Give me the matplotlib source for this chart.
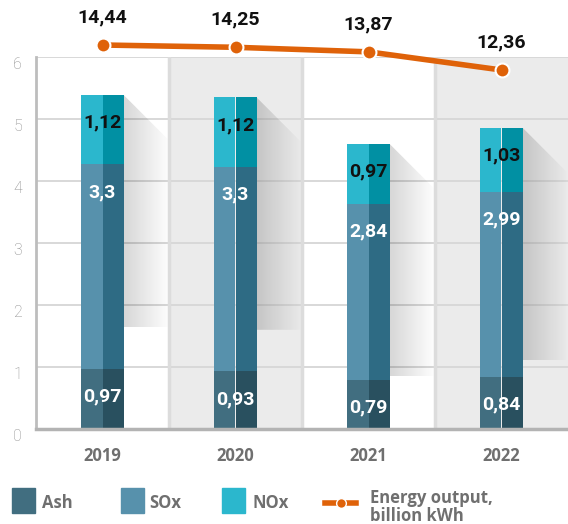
import numpy as np
from matplotlib import pyplot as plt
from matplotlib.patches import Polygon, Rectangle
from matplotlib.lines import Line2D

years = ["2019", "2020", "2021", "2022"]
ash = [0.97, 0.93, 0.79, 0.84]
sox = [3.3, 3.3, 2.84, 2.99]
nox = [1.12, 1.12, 0.97, 1.03]
energy = [14.44, 14.25, 13.87, 12.36]

# light / dark halves of each stacked segment
colors = {
    "Ash": ("#416e80", "#29505f"),
    "SOx": ("#5791ac", "#2e6b84"),
    "NOx": ("#2bb7cd", "#0190a3"),
}
orange = "#df6209"
text_gray = "#6f6f6f"
num_font = "Roboto"

fig = plt.figure(figsize=(5.68, 5.24), dpi=100)
ax = fig.add_axes([36 / 568, 1 - 429 / 524, 532 / 568, 372 / 524])

x = np.arange(len(years))
ax.set_xlim(-0.5, len(years) - 0.5)
ax.set_ylim(0, 6)

# alternating column bands
for i in x:
    if i % 2 == 1:
        ax.axvspan(i - 0.5, i + 0.5, color="#ebebeb", zorder=0, lw=0)
for i in x[:-1]:
    ax.axvline(i + 0.5, color="#dcdcdc", lw=2.5, zorder=0.6)

ax.set_axisbelow(True)
ax.yaxis.grid(True, color="#d6d6d6", lw=1.3)
ax.set_yticks(range(7))
ax.set_xticks(x)
ax.set_xticklabels(years, fontfamily="Open Sans", fontweight="bold",
                   fontsize=12, color=text_gray)
ax.tick_params(axis="x", length=0, pad=13)
ax.tick_params(axis="y", length=0, pad=10, labelsize=11.5, labelcolor="#8c8c8c")
for lab in ax.get_yticklabels():
    lab.set_fontfamily("Roboto")
    lab.set_fontweight("light")
    lab.set_va("top")

for side in ["top", "right"]:
    ax.spines[side].set_visible(False)
ax.spines["left"].set_color("#bdbdbd")
ax.spines["left"].set_linewidth(2)
ax.spines["bottom"].set_color("#b3b3b3")
ax.spines["bottom"].set_linewidth(2.5)

bw = 0.316
hw = bw / 2

# soft diagonal shadow to the right of each bar
px_x = 532 / len(years)
px_y = 372 / 6
shadow_w = 44
shadow_len = 3.75
grad = np.zeros((2, 64, 4))
grad[..., 3] = np.linspace(0.16, 0.01, 64)[None, :]
totals = np.array(ash) + np.array(sox) + np.array(nox)
for i, top in zip(x, totals):
    xr = i + hw
    dx = shadow_w / px_x
    dy = shadow_w / px_y
    poly = Polygon([(xr, top), (xr + dx, top - dy), (xr + dx, top - shadow_len),
                    (xr, top - shadow_len)], closed=True, transform=ax.transData,
                   facecolor="none", edgecolor="none")
    ax.add_patch(poly)
    im = ax.imshow(grad, extent=(xr, xr + dx, top - shadow_len, top),
                   aspect="auto", zorder=1, interpolation="bilinear")
    im.set_clip_path(poly)

# stacked bars, each drawn as a light left half and a dark right half
bottom = np.zeros(len(years))
for name, vals, tcolor in [("Ash", ash, "white"), ("SOx", sox, "white"),
                           ("NOx", nox, "#111111")]:
    light, dark = colors[name]
    ax.bar(x - hw / 2, vals, hw, bottom=bottom, color=light, zorder=2, lw=0)
    ax.bar(x + hw / 2, vals, hw, bottom=bottom, color=dark, zorder=2, lw=0)
    for i, v in enumerate(vals):
        ax.annotate(f"{v:g}".replace(".", ","), (x[i], bottom[i] + v),
                    xytext=(0, -20), textcoords="offset points",
                    ha="center", va="center", fontsize=14, fontweight="bold",
                    fontfamily=num_font, color=tcolor, zorder=3)
    bottom = bottom + np.array(vals)

# energy output on its own hidden scale
ax2 = ax.twinx()
k = 25 / (energy[0] - energy[-1])
lo = energy[0] - (429 - 45) / k
hi = energy[0] - (57 - 45) / k
ax2.set_ylim(lo, hi)
ax2.set_xlim(ax.get_xlim())
ax2.axis("off")
ax2.plot(x, energy, color=orange, lw=4, marker="o", ms=10,
         markerfacecolor=orange, markeredgecolor="white", markeredgewidth=1.5,
         clip_on=False, zorder=5)
for i, v in enumerate(energy):
    ax2.annotate(f"{v:.2f}".replace(".", ","), (x[i], v), xytext=(0, 20),
                 textcoords="offset points", ha="center", va="center",
                 fontsize=14, fontweight="bold", fontfamily=num_font,
                 color="#111111", annotation_clip=False)

# legend along the bottom
leg_font = dict(fontfamily="Open Sans", fontweight="bold", fontsize=12,
                color=text_gray, va="center")
for name, sx, tx in [("Ash", 12, 42), ("SOx", 121, 149), ("NOx", 222, 252)]:
    fig.patches.append(Rectangle((sx / 568, 1 - 513 / 524), 23 / 568, 25 / 524,
                                 transform=fig.transFigure, color=colors[name][0]))
    fig.text(tx / 568, 1 - 503 / 524, name, **leg_font)
fig.lines.append(Line2D([325 / 568, 356 / 568], [1 - 503 / 524] * 2,
                        transform=fig.transFigure, color=orange, lw=4))
fig.lines.append(Line2D([340.5 / 568], [1 - 503 / 524], transform=fig.transFigure,
                        marker="o", ms=7, color=orange, markeredgecolor="white",
                        markeredgewidth=1))
fig.text(370 / 568, 1 - 507 / 524, "Energy output,\nbillion kWh",
         linespacing=1.0, **leg_font)

fig.savefig("out.png", dpi=100)
